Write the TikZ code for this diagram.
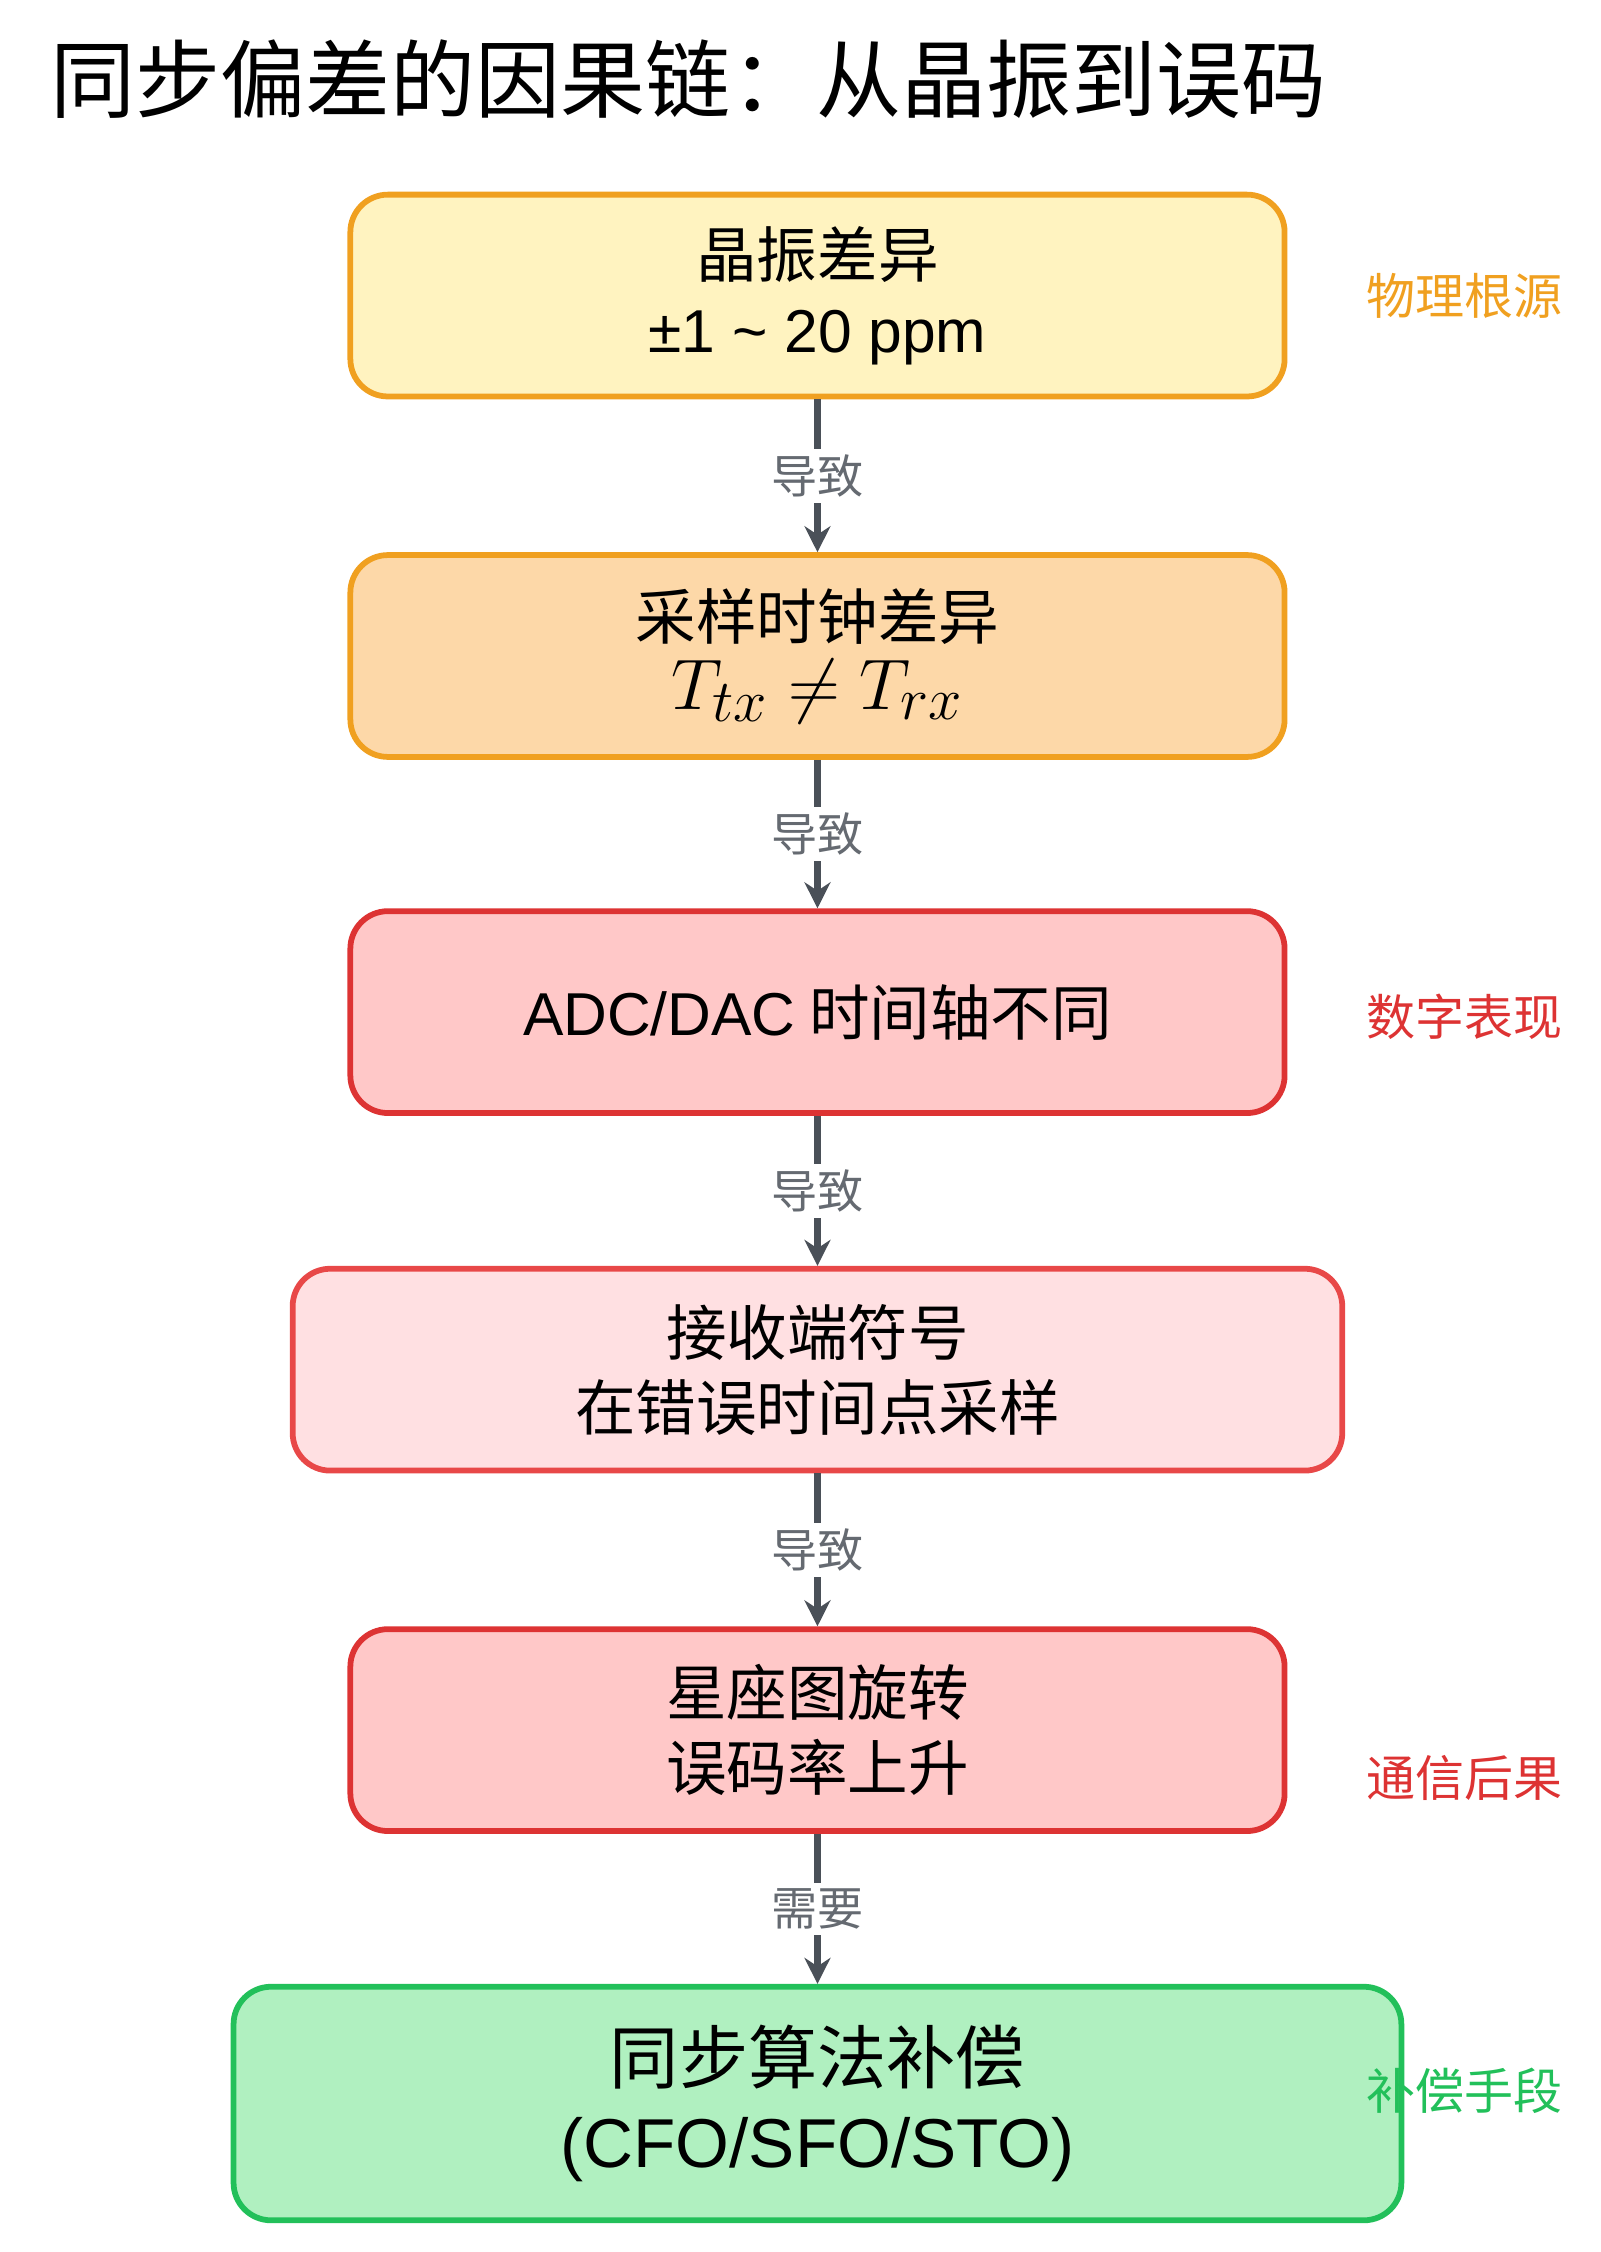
\documentclass[tikz,border=0pt]{standalone}
\usepackage{fontspec}
\setmainfont{Noto Sans CJK SC}
\newfontfamily\lat{Liberation Sans}
\usetikzlibrary{arrows.meta}
\definecolor{ylf}{HTML}{FFF3C0}\definecolor{orb}{HTML}{F0A020}
\definecolor{orf}{HTML}{FDD8A8}\definecolor{rdb}{HTML}{DD3333}
\definecolor{rdf}{HTML}{FFC8C8}\definecolor{pkf}{HTML}{FFE0E2}
\definecolor{rdb2}{HTML}{E84848}\definecolor{grf}{HTML}{B0F0C0}
\definecolor{grb}{HTML}{22C05A}\definecolor{arr}{HTML}{4A5058}
\begin{document}
\begin{tikzpicture}[x=0.5pt,y=-0.5pt,
 box/.style={draw,line width=2pt,rounded corners=13pt,align=center,font=\fontsize{21}{26}\selectfont,inner sep=0pt},
 lab/.style={fill=white,text=arr!85,font=\fontsize{16}{19}\selectfont,inner sep=2pt},
 side/.style={font=\fontsize{17}{20}\selectfont},
 con/.style={draw=arr,line width=2.5pt,-{Stealth[length=9pt,width=9pt]}}]
\useasboundingbox (0,0) rectangle (1110,1562);
\node[anchor=west,font=\fontsize{29.5}{34}\selectfont] (t) at (28,55) {同步偏差的因果链：从晶振到误码};
\node[box,draw=orb,fill=ylf,minimum width=324pt,minimum height=70pt] (a) at (567,205) {晶振差异\\{\lat ±1 \char`~\ 20 ppm}};
\node[box,draw=orb,fill=orf,minimum width=324pt,minimum height=70pt] (b) at (567,455) {采样时钟差异\\[-2pt]{\fontsize{30}{30}\selectfont$T_{tx}\neq T_{rx}$}};
\node[box,draw=rdb,fill=rdf,minimum width=324pt,minimum height=70pt] (c) at (567,702) {{\lat ADC/DAC} 时间轴不同};
\node[box,draw=rdb2,fill=pkf,minimum width=364pt,minimum height=70pt] (d) at (567,950) {接收端符号\\在错误时间点采样};
\node[box,draw=rdb,fill=rdf,minimum width=324pt,minimum height=70pt] (e) at (567,1200) {星座图旋转\\误码率上升};
\node[box,draw=grb,fill=grf,minimum width=405pt,minimum height=81pt,font=\fontsize{24}{29}\selectfont] (f) at (567,1459) {同步算法补偿\\{\lat (CFO/SFO/STO)}};
\foreach \p/\q/\l in {a/b/导致,b/c/导致,c/d/导致,d/e/导致,e/f/需要}{
 \draw[con] (\p.south) -- node[lab]{\l} (\q.north);}
\node[side,text=orb] (s1) at (1016,205) {物理根源};
\node[side,text=rdb] (s2) at (1016,705) {数字表现};
\node[side,text=rdb] (s3) at (1016,1233) {通信后果};
\node[side,text=grb] (s4) at (1016,1450) {补偿手段};
\end{tikzpicture}
\end{document}
